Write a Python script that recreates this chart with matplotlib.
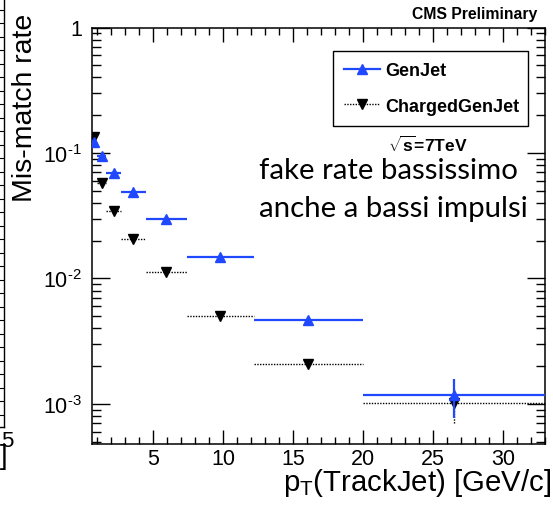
import numpy as np
import matplotlib
matplotlib.use("Agg")
import matplotlib.pyplot as plt
from matplotlib.lines import Line2D
from matplotlib.ticker import FixedLocator, LogLocator, MultipleLocator, NullFormatter

plt.rcParams['font.family'] = ['Liberation Sans', 'DejaVu Sans']
plt.rcParams['mathtext.fontset'] = 'custom'
plt.rcParams['mathtext.rm'] = 'Liberation Sans'
plt.rcParams['mathtext.it'] = 'Liberation Sans:italic'
plt.rcParams['mathtext.bf'] = 'Liberation Sans:bold'
plt.rcParams['mathtext.default'] = 'regular'

# bins in pT(TrackJet) [GeV/c]
bin_lo = np.array([0.6, 1.0, 1.65, 2.7, 4.5, 7.4, 12.2, 20.0])
bin_hi = np.array([1.0, 1.65, 2.7, 4.5, 7.4, 12.2, 20.0, 33.0])

# mis-match rate
genjet = np.array([0.122, 0.0946, 0.069, 0.0485, 0.030, 0.0148, 0.0047, 0.00117])
genjet_err = np.array([0.003, 0.002, 0.0015, 0.001, 0.0007, 0.0004, 0.0002, 0.0004])
charged = np.array([0.134, 0.058, 0.0348, 0.0205, 0.0112, 0.0050, 0.00207, 0.00101])
charged_err = np.array([0.003, 0.0015, 0.001, 0.0007, 0.0004, 0.0002, 0.0001, 0.0003])

ytick_vals = [1e-3, 1e-2, 1e-1, 1]
ytick_labels = [r'$10^{\text{-3}}$', r'$10^{\text{-2}}$', r'$10^{\text{-1}}$', '1']
xtick_vals = [5, 10, 15, 20, 25, 30]

xc = 0.5 * (bin_lo + bin_hi)
xerr = [xc - bin_lo, bin_hi - xc]

blue = '#1f48ff'
dots = (0, (1, 1))

fig = plt.figure(figsize=(5.53, 5.06), dpi=100)

# left neighbour panel, cut off by the slide crop
ax0 = fig.add_axes([-0.5, 1 - 428 / 506, 0.5 + 3.5 / 553, 428 / 506 + 0.05])
ax0.set_xlim(0, 1)
ax0.set_ylim(0, 450)
for s in ['left', 'top']:
    ax0.spines[s].set_visible(False)
ax0.spines['right'].set_linewidth(1.0)
ax0.spines['bottom'].set_linewidth(1.0)
ax0.yaxis.tick_right()
ax0.set_yticks(np.arange(12, 450, 13.4))
ax0.tick_params(axis='y', direction='in', length=6, width=0.8, labelright=False)
ax0.set_xticks([])
fig.text(13 / 553, 1 - 442 / 506, '5', fontsize=16, ha='right', va='center')
fig.text(8.5 / 553, 1 - 457 / 506, 'c]', fontsize=20, ha='right', va='center')

ax = fig.add_axes([91.5 / 553, 1 - 445 / 506, (545 - 91.5) / 553, (445 - 28.5) / 506])

# ChargedGenJet below, GenJet on top
eb2 = ax.errorbar(xc, charged, xerr=xerr, yerr=charged_err, fmt='v', color='black',
                  ms=7, elinewidth=1.0, capsize=0, zorder=3)
for lc in eb2[2]:
    lc.set_linestyle(dots)
eb1 = ax.errorbar(xc, genjet, xerr=xerr, yerr=genjet_err, fmt='^', color=blue,
                  ms=7, elinewidth=1.6, capsize=0, zorder=4)

ax.set_yscale('log')
ax.set_xlim(0.6, 33)
ax.set_ylim(4.8e-4, 1)

ax.yaxis.set_major_locator(FixedLocator(ytick_vals))
ax.set_yticklabels(ytick_labels)
ax.yaxis.set_minor_locator(LogLocator(base=10, subs=np.arange(2, 10)))
ax.yaxis.set_minor_formatter(NullFormatter())
ax.xaxis.set_major_locator(FixedLocator(xtick_vals))
ax.xaxis.set_minor_locator(MultipleLocator(1))

ax.tick_params(which='both', direction='in', top=True, right=True, width=1.0, labelsize=15.5)
ax.tick_params(axis='y', which='major', length=13, pad=7)
ax.tick_params(axis='y', which='minor', length=6.5)
ax.tick_params(axis='x', which='major', length=10, pad=3)
ax.tick_params(axis='x', which='minor', length=5)
for s in ax.spines.values():
    s.set_linewidth(1.1)

fig.text(25.5 / 553, 1 - 14 / 506, 'Mis-match rate', rotation=90, fontsize=20.5,
         ha='center', va='top')
fig.text(551 / 553, 1 - 491 / 506, r'$\mathregular{p_T}$(TrackJet) [GeV/c]',
         fontsize=21.2, ha='right', va='baseline')

fig.text(537 / 553, 1 - 15 / 506, 'CMS Preliminary', fontsize=11.3, fontweight='bold',
         ha='right', va='center')
fig.text(428 / 553, 1 - 145 / 506, r'$\sqrt{\mathbf{s}}$=7TeV', fontsize=12.5,
         fontweight='bold', ha='center', va='center')

fig.text(259 / 553, 1 - 179 / 506, 'fake rate bassissimo', fontsize=21.2,
         family=['Lato', 'DejaVu Sans'], ha='left', va='baseline')
fig.text(259 / 553, 1 - 217 / 506, 'anche a bassi impulsi', fontsize=21.2,
         family=['Lato', 'DejaVu Sans'], ha='left', va='baseline')

handles = [
    Line2D([], [], color=blue, lw=1.6, marker='^', ms=7),
    Line2D([], [], color='black', lw=1.0, ls=dots, marker='v', ms=7),
]
leg_top = 1 - (52 - 28.5) / 416.5
leg = ax.legend(handles, ['GenJet', 'ChargedGenJet'], loc='upper left',
                bbox_to_anchor=((333 - 91.5) / 453.5, leg_top - 0.01,
                                (528 - 333) / 453.5, 0.01),
                mode='expand', borderaxespad=0, fancybox=False, framealpha=1,
                edgecolor='black', prop={'weight': 'bold', 'size': 13},
                handlelength=2.0, handletextpad=0.3, labelspacing=1.05,
                borderpad=0.6)
leg.get_frame().set_linewidth(1.0)

plt.savefig("out.png", dpi=100)
